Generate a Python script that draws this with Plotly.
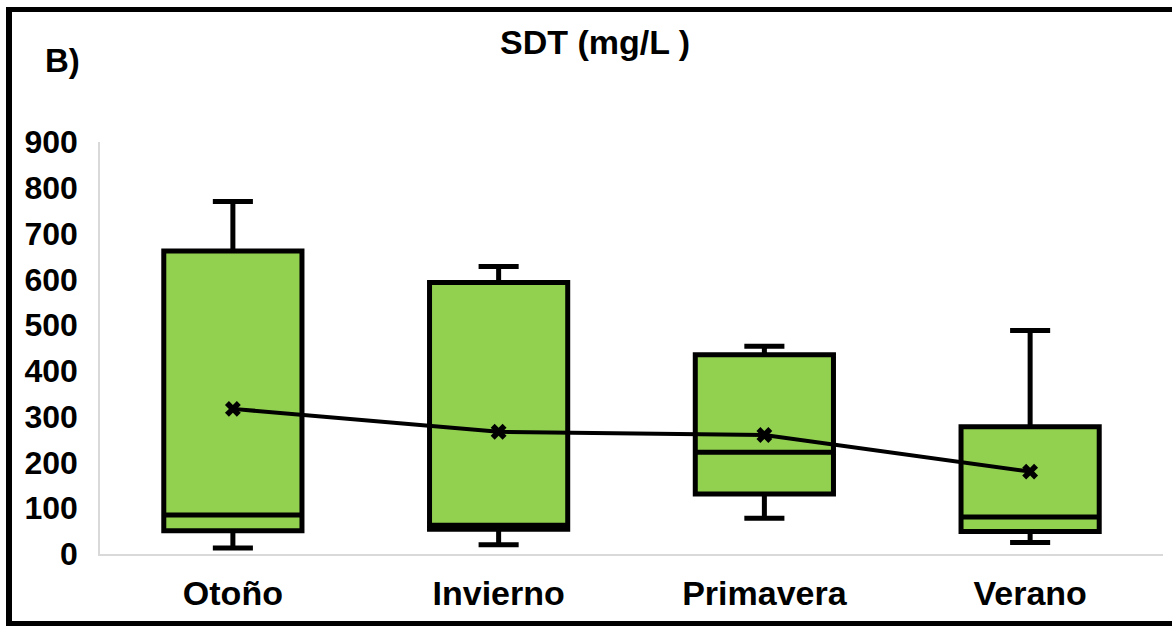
import plotly.graph_objects as go

# ---- data ----
categories = ["Otoño", "Invierno", "Primavera", "Verano"]
lower_whisker = [13, 20, 78, 25]
q1_values = [51, 54, 131, 49]
median_values = [85, 63, 222, 81]
q3_values = [662, 593, 435, 278]
upper_whisker = [770, 628, 454, 488]
mean_values = [317, 267, 260, 180]
y_ticks = [0, 100, 200, 300, 400, 500, 600, 700, 800, 900]

W, H = 1172, 626
L, R, T, B = 100, 9, 142, 72
PW, PH = W - L - R, H - T - B

def px(x):
    return (x - L) / PW

def py(y):
    return (H - B - y) / PH

FONT = "Liberation Sans, Arial, sans-serif"

fig = go.Figure()
fig.add_trace(go.Box(
    x=categories,
    q1=q1_values,
    median=median_values,
    q3=q3_values,
    lowerfence=lower_whisker,
    upperfence=upper_whisker,
    fillcolor="#92D050",
    line=dict(color="black", width=5),
    whiskerwidth=0.29,
    width=0.52,
    boxpoints=False,
    hoverinfo="skip",
    showlegend=False,
))
fig.add_trace(go.Scatter(
    x=categories,
    y=mean_values,
    mode="lines+markers",
    line=dict(color="black", width=4),
    marker=dict(symbol="x", size=14, color="black", line=dict(width=0)),
    hoverinfo="skip",
    showlegend=False,
))

shapes = []
for (x0, y0, x1, y1) in [(6, 7, 12, 626), (6, 7, 1172, 12), (6, 621, 1172, 626)]:
    shapes.append(dict(type="rect", xref="paper", yref="paper",
                       x0=px(x0), x1=px(x1), y0=py(y0), y1=py(y1),
                       fillcolor="black", line=dict(width=0), layer="above"))

fig.update_layout(
    width=W, height=H,
    margin=dict(l=L, r=R, t=T, b=B),
    paper_bgcolor="white", plot_bgcolor="white",
    font=dict(family=FONT, color="black"),
    shapes=shapes,
    annotations=[
        dict(text="SDT (mg/L )", x=px(595), y=py(42), xref="paper", yref="paper",
             showarrow=False, xanchor="center", yanchor="middle",
             font=dict(size=34, family=FONT, weight="bold", color="black")),
        dict(text="B)", x=px(62), y=py(60), xref="paper", yref="paper",
             showarrow=False, xanchor="center", yanchor="middle",
             font=dict(size=33, family=FONT, weight="bold", color="black")),
    ],
    xaxis=dict(range=[-0.5, 3.5], showgrid=False, showline=True, linecolor="#D9D9D9",
               linewidth=1.5, ticks="",
               tickfont=dict(size=34, family=FONT, weight="bold", color="black"),
               ticklabelstandoff=8, zeroline=False),
    yaxis=dict(range=[0, 900], tickvals=y_ticks, showgrid=False, showline=True,
               linecolor="#D9D9D9", linewidth=1.5, ticks="", zeroline=False,
               tickfont=dict(size=32, family=FONT, weight="bold", color="black"),
               ticklabelstandoff=14),
)

fig.write_html("out.html")
